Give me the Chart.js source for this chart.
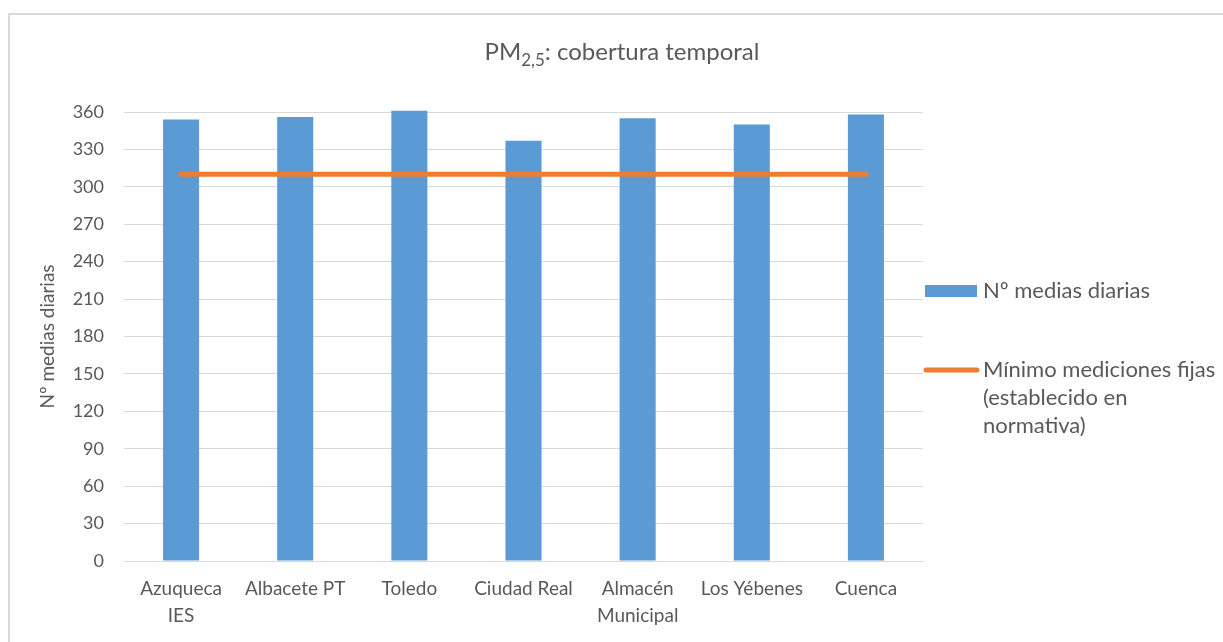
<!DOCTYPE html>
<html>
<head>
<meta charset="utf-8">
<script src="https://cdn.jsdelivr.net/npm/chart.js@4"></script>
<style>
html,body{margin:0;padding:0;background:#fff;overflow:hidden;}
#wrap{position:relative;width:1223px;height:642px;}
#frame{position:absolute;left:8px;top:13px;width:1400px;height:800px;border:2px solid #d9d9d9;box-sizing:border-box;pointer-events:none;}
canvas{position:absolute;left:0;top:0;}
</style>
</head>
<body>
<div id="wrap">
<div id="frame"></div>
<canvas id="c" width="1223" height="642"></canvas>
</div>
<script>
const categories = [["Azuqueca","IES"],"Albacete PT","Toledo","Ciudad Real",["Almacén","Municipal"],"Los Yébenes","Cuenca"];
const dailyMeans = [354, 356, 361, 337, 355, 350, 358];
const minimumFixed = [310, 310, 310, 310, 310, 310, 310];
const seriesNames = ["Nº medias diarias", "Mínimo mediciones fijas (establecido en normativa)"];
const legendLines = [["Nº medias diarias"], ["Mínimo mediciones fijas","(establecido en","normativa)"]];
const yTitle = "Nº medias diarias";
const titleParts = ["PM", "2,5", ": cobertura temporal"];

const FONT = "Lato, 'Open Sans', sans-serif";
const TXT = "#595959";
const BLUE = "#5B9BD5";
const ORANGE = "#ED7D31";

const overlay = {
  id: 'overlay',
  afterDraw(chart) {
    const ctx = chart.ctx;
    ctx.save();
    // Title with subscript
    ctx.fillStyle = TXT;
    ctx.textBaseline = 'alphabetic';
    const big = "24px " + FONT, small = "17px " + FONT;
    ctx.font = big; const w1 = ctx.measureText(titleParts[0]).width;
    ctx.font = small; const w2 = ctx.measureText(titleParts[1]).width;
    ctx.font = big; const w3 = ctx.measureText(titleParts[2]).width;
    const total = w1 + w2 + w3;
    let x = 622 - total / 2;
    const base = 60;
    ctx.textAlign = 'left';
    ctx.font = big; ctx.fillText(titleParts[0], x, base); x += w1;
    ctx.font = small; ctx.fillText(titleParts[1], x, base + 6); x += w2;
    ctx.font = big; ctx.fillText(titleParts[2], x, base);

    // Legend
    ctx.font = "22px " + FONT;
    ctx.textBaseline = 'middle';
    ctx.fillStyle = BLUE;
    ctx.fillRect(925, 285, 52, 12);
    ctx.fillStyle = TXT;
    legendLines[0].forEach((t, i) => ctx.fillText(t, 983, 291 + i * 28));
    ctx.strokeStyle = ORANGE;
    ctx.lineWidth = 5;
    ctx.lineCap = 'round';
    ctx.beginPath(); ctx.moveTo(926, 370); ctx.lineTo(977, 370); ctx.stroke();
    legendLines[1].forEach((t, i) => ctx.fillText(t, 983, 370 + i * 28));
    ctx.restore();
  }
};

new Chart(document.getElementById('c'), {
  data: {
    labels: categories,
    datasets: [
      {
        type: 'line',
        label: seriesNames[1],
        data: minimumFixed,
        borderColor: ORANGE,
        backgroundColor: ORANGE,
        borderWidth: 5,
        borderCapStyle: 'round',
        pointRadius: 0,
        pointHoverRadius: 0,
        tension: 0,
        order: 0
      },
      {
        type: 'bar',
        label: seriesNames[0],
        data: dailyMeans,
        backgroundColor: BLUE,
        borderWidth: 0,
        categoryPercentage: 1,
        barPercentage: 0.316,
        clip: false,
        order: 1
      }
    ]
  },
  options: {
    responsive: false,
    animation: false,
    events: [],
    layout: { padding: { left: 0, top: 112, right: 300, bottom: 0 } },
    plugins: { legend: { display: false }, title: { display: false }, tooltip: { enabled: false } },
    scales: {
      x: {
        grid: { display: false, drawTicks: false },
        border: { display: true, color: '#d9d9d9', width: 1 },
        ticks: {
          color: TXT, padding: 15, maxRotation: 0, autoSkip: false,
          font: { family: FONT, size: 19, lineHeight: 1.4 }
        },
        afterFit(s) { s.height = 81; }
      },
      y: {
        min: 0, max: 360,
        grid: { color: '#d9d9d9', lineWidth: 1, drawTicks: false },
        border: { display: false },
        ticks: {
          stepSize: 30, color: TXT, padding: 20,
          font: { family: FONT, size: 18 }
        },
        title: {
          display: true, text: yTitle, color: TXT,
          font: { family: FONT, size: 19 },
          padding: { top: 36, bottom: 0 }
        },
        afterFit(s) { s.width = 124; }
      }
    }
  },
  plugins: [overlay]
});
</script>
</body>
</html>
